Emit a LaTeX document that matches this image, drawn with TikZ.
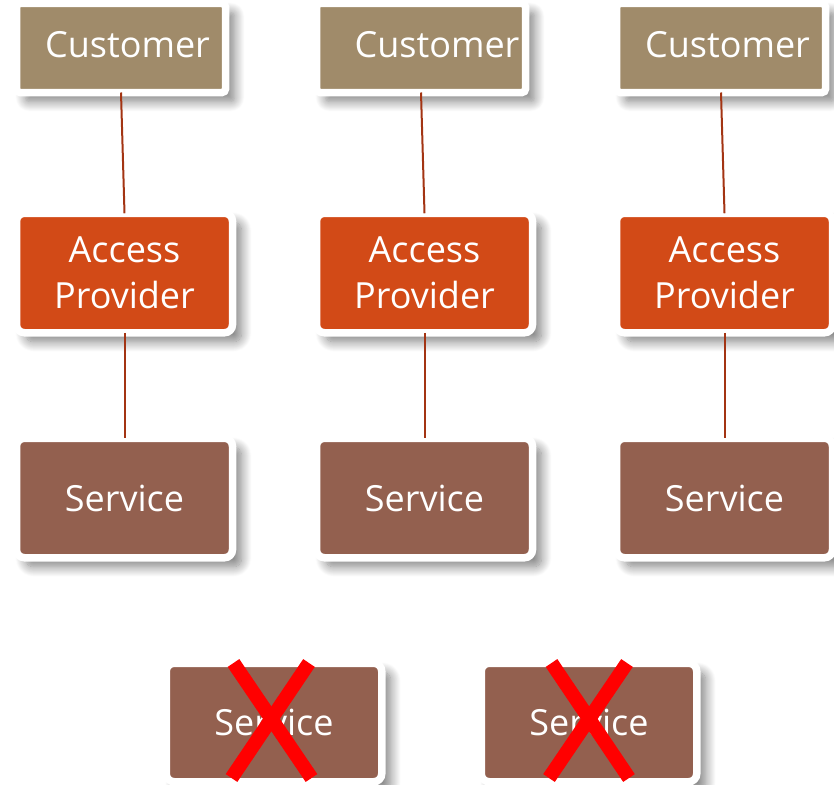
\documentclass[tikz,border=0pt]{standalone}
\usepackage{fontspec}
\setmainfont{Open Sans}
\usetikzlibrary{shadows.blur}
\definecolor{custcol}{RGB}{160,139,106}
\definecolor{apcol}{RGB}{210,74,23}
\definecolor{servcol}{RGB}{147,96,79}
\definecolor{linkcol}{RGB}{163,52,19}
\definecolor{xred}{RGB}{255,0,0}
\begin{document}
\begin{tikzpicture}[x=1pt,y=-1pt,
  myshadow/.style={blur shadow={shadow xshift=9pt,shadow yshift=-9pt,shadow blur radius=10pt,shadow blur steps=14,shadow opacity=50}},
  framebox/.style={draw=white,line width=7.5pt,inner sep=0pt,outer sep=0pt,text=white,align=center,
    font=\fontsize{36}{46}\selectfont,myshadow},
  custbox/.style={framebox,fill=custcol,rounded corners=3.5pt,minimum width=209pt,minimum height=89pt},
  apbox/.style={framebox,fill=apcol,rounded corners=8pt,minimum width=216pt,minimum height=119.5pt},
  servbox/.style={framebox,fill=servcol,rounded corners=8pt,minimum width=216pt,minimum height=119.5pt},
  txt/.style={text=white,inner sep=0pt,font=\fontsize{36}{46}\selectfont},
  link/.style={draw=linkcol,line width=2pt},
  cross/.style={draw=xred,line width=14pt}]
\useasboundingbox (0,0) rectangle (834,784);

% customers
\node[custbox] (c1) at (121,48) {};
\node[custbox] (c2) at (421,48) {};
\node[custbox] (c3) at (721,48) {};
\node[txt] (t1) at (127.5,45) {Customer};
\begin{scope}
  \clip ([xshift=3.75pt,yshift=3.75pt]c2.south west) rectangle ([xshift=-3.75pt,yshift=-3.75pt]c2.north east);
  \node[txt] (t2) at (437,45) {Customer};
\end{scope}
\node[txt] (t3) at (727.5,45) {Customer};

% access providers
\node[apbox] (a1) at (124.5,273) {Access\\Provider};
\node[apbox] (a2) at (424.5,273) {Access\\Provider};
\node[apbox] (a3) at (724.5,273) {Access\\Provider};

% services
\node[servbox] (s1) at (124.5,498) {Service};
\node[servbox] (s2) at (424.5,498) {Service};
\node[servbox] (s3) at (724.5,498) {Service};

% bottom services
\node[servbox,minimum height=118.5pt,minimum width=215.5pt] (s4) at (274,722.5) {Service};
\node[servbox,minimum height=118.5pt,minimum width=215.5pt] (s5) at (589,722.5) {Service};

% connectors
\draw[link] (c1.south) -- (a1.north);
\draw[link] (c2.south) -- (a2.north);
\draw[link] (c3.south) -- (a3.north);
\draw[link] (a1.south) -- (s1.north);
\draw[link] (a2.south) -- (s2.north);
\draw[link] (a3.south) -- (s3.north);

% red crosses
\draw[cross] (233.5,663) -- (311.5,778);
\draw[cross] (309,663) -- (231.5,778);
\draw[cross] (551.5,663) -- (629,778);
\draw[cross] (627,663) -- (549,778);
\end{tikzpicture}
\end{document}
